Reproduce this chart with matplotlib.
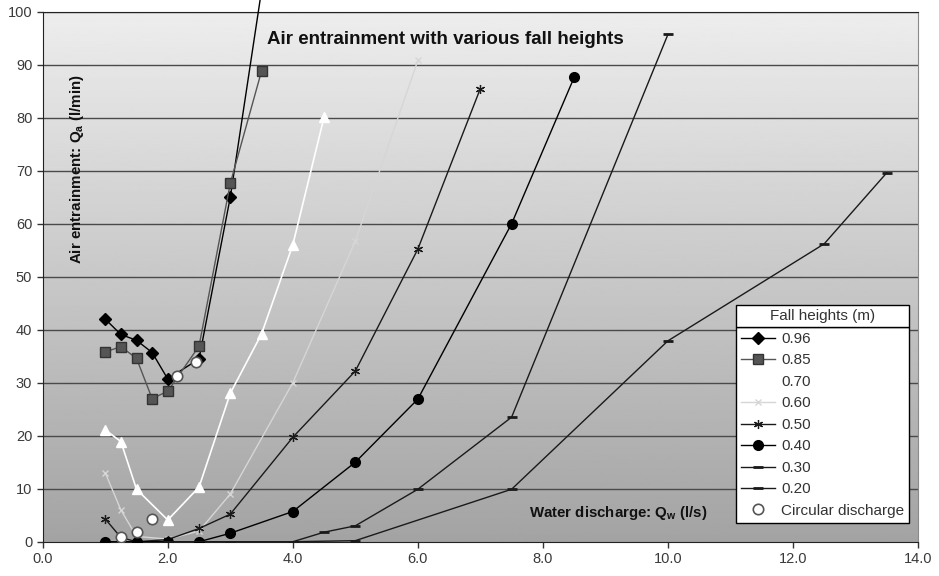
import numpy as np
import matplotlib
matplotlib.use("Agg")
import matplotlib.pyplot as plt
from matplotlib.patches import Rectangle

x_096 = [1.0, 1.25, 1.5, 1.75, 2.0, 2.5, 3.0, 3.5]
y_096 = [42.0, 39.1, 38.0, 35.7, 30.7, 34.5, 65.0, 104.0]

x_085 = [1.0, 1.25, 1.5, 1.75, 2.0, 2.5, 3.0, 3.5]
y_085 = [35.8, 36.8, 34.6, 27.0, 28.4, 36.9, 67.6, 88.8]

x_070 = [1.0, 1.25, 1.5, 2.0, 2.5, 3.0, 3.5, 4.0, 4.5]
y_070 = [21.1, 18.9, 9.9, 4.1, 10.3, 28.0, 39.2, 56.0, 80.1]

x_060 = [1.0, 1.25, 1.5, 2.0, 2.5, 3.0, 4.0, 5.0, 6.0]
y_060 = [13.0, 6.0, 1.0, 0.5, 2.0, 9.0, 30.0, 56.7, 90.8]

x_050 = [1.0, 1.25, 1.5, 2.0, 2.5, 3.0, 4.0, 5.0, 6.0, 7.0]
y_050 = [4.3, 0.8, 0.0, 0.4, 2.5, 5.2, 19.7, 32.2, 55.2, 85.5]

x_040 = [1.0, 1.5, 2.0, 2.5, 3.0, 4.0, 5.0, 6.0, 7.5, 8.5]
y_040 = [0.0, 0.0, 0.0, 0.0, 1.6, 5.7, 15.0, 26.9, 60.0, 87.6]

x_030 = [2.0, 3.0, 4.0, 4.5, 5.0, 6.0, 7.5, 10.0]
y_030 = [0.0, 0.0, 0.0, 1.8, 3.0, 9.9, 23.5, 95.7]

x_020 = [2.0, 3.0, 4.0, 5.0, 7.5, 10.0, 12.5, 13.5]
y_020 = [0.0, 0.0, 0.0, 0.2, 9.9, 37.9, 56.2, 69.6]

x_circ = [1.25, 1.5, 1.75, 2.15, 2.45]
y_circ = [0.8, 1.9, 4.3, 31.3, 34.0]

x_ticks = [0, 2, 4, 6, 8, 10, 12, 14]
y_ticks = [0, 10, 20, 30, 40, 50, 60, 70, 80, 90, 100]


def draw_background(ax):
    # grey gradient behind the plot, lighter at the top
    grad = np.linspace(0.64, 0.93, 256).reshape(-1, 1)
    ax.imshow(grad, cmap="gray", vmin=0, vmax=1, origin="lower",
              extent=[0, 14, 0, 100], aspect="auto", zorder=0)
    for yv in y_ticks[1:]:
        ax.axhline(yv, color="#4a4a4a", lw=1.0, zorder=1)


def draw_series(ax):
    ax.plot(x_096, y_096, color="black", lw=1.0, marker="D", ms=6,
            label="0.96", zorder=5, clip_on=False)
    ax.plot(x_085, y_085, color="#555555", lw=1.0, marker="s", ms=7,
            mec="#333333", label="0.85", zorder=5)
    ax.plot(x_070, y_070, color="white", lw=1.2, marker="^", ms=7,
            mec="white", label="0.70", zorder=4)
    ax.plot(x_060, y_060, color="#d6d6d6", lw=1.0, marker="x", ms=5,
            label="0.60", zorder=3)
    ax.plot(x_050, y_050, color="#1a1a1a", lw=1.0, marker=(6, 2, 0), ms=6.5,
            mew=0.9, label="0.50", zorder=4)
    ax.plot(x_040, y_040, color="black", lw=1.0, marker="o", ms=7,
            label="0.40", zorder=4)
    ax.plot(x_030, y_030, color="#1a1a1a", lw=1.0, marker="_", ms=7, mew=2,
            label="0.30", zorder=4)
    ax.plot(x_020, y_020, color="#1a1a1a", lw=1.0, marker="_", ms=7, mew=2,
            label="0.20", zorder=4)
    ax.plot(x_circ, y_circ, ls="none", marker="o", ms=7.5, mfc="white",
            mec="#555555", mew=1.2, label="Circular discharge", zorder=6)


def draw_legend(ax):
    leg = ax.legend(loc="lower left", bbox_to_anchor=(0.792, 0.035, 0.198, 0.37),
                    mode="expand", fontsize=11, frameon=True, fancybox=False,
                    framealpha=1, edgecolor="black", labelspacing=0.49,
                    handlelength=2.2, handletextpad=0.4, borderpad=0.35,
                    borderaxespad=0)
    leg.get_frame().set_linewidth(1.0)
    for txt in leg.get_texts():
        txt.set_color("#333333")
    # separate title box above the entries
    ax.add_patch(Rectangle((0.792, 0.405), 0.198, 0.042, transform=ax.transAxes,
                           facecolor="white", edgecolor="black", lw=1.0,
                           zorder=10, clip_on=False))
    ax.text(0.891, 0.426, "Fall heights (m)", transform=ax.transAxes,
            ha="center", va="center", fontsize=11, color="#333333", zorder=11)


def main():
    plt.rcParams["font.family"] = ["Liberation Sans", "DejaVu Sans"]
    fig = plt.figure(figsize=(9.39, 5.76), dpi=100)
    ax = fig.add_axes([0.0455, 0.0595, 0.9321, 0.9202])

    draw_background(ax)
    draw_series(ax)
    draw_legend(ax)

    ax.set_xlim(0, 14)
    ax.set_ylim(0, 100)
    ax.set_xticks(x_ticks)
    ax.set_xticklabels([f"{v:.1f}" for v in x_ticks])
    ax.set_yticks(y_ticks)
    ax.tick_params(axis="both", labelsize=10.5, labelcolor="#3a3a3a",
                   direction="out", length=4, width=1, color="#333333")
    for side in ["left", "bottom", "top"]:
        ax.spines[side].set_color("#222222")
    ax.spines["right"].set_color("#8a8a8a")

    ax.text(0.46, 0.947, "Air entrainment with various fall heights",
            transform=ax.transAxes, ha="center", va="center",
            fontsize=13.5, fontweight="bold", color="#111111", zorder=8)
    ax.text(0.039, 0.703, "Air entrainment: Q$_\\mathregular{a}$ (l/min)",
            transform=ax.transAxes, ha="center", va="center", rotation=90,
            fontsize=10.9, fontweight="bold", color="#111111", zorder=8)
    ax.text(0.556, 0.054, "Water discharge: Q$_\\mathregular{w}$ (l/s)",
            transform=ax.transAxes, ha="left", va="center",
            fontsize=10.8, fontweight="bold", color="#111111", zorder=8)

    fig.savefig("out.png", dpi=100)


if __name__ == "__main__":
    main()
